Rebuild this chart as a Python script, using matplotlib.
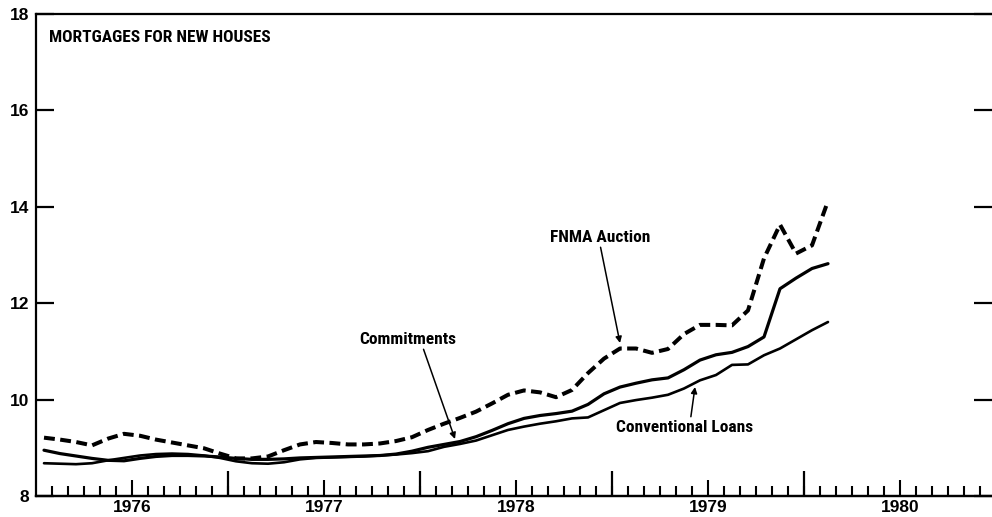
import numpy as np
import matplotlib
matplotlib.use("Agg")
import matplotlib.pyplot as plt
from matplotlib.ticker import FixedLocator, NullFormatter, FixedFormatter

# ---- data (monthly, Jan 1976 - Feb 1980), percent ----
start_year = 1976
fnma_auction = [9.21, 9.17, 9.12, 9.05, 9.19, 9.29, 9.25, 9.17, 9.11, 9.05,
                8.99, 8.88, 8.78, 8.78, 8.82, 8.95, 9.07, 9.12, 9.10, 9.07,
                9.07, 9.09, 9.14, 9.22, 9.37, 9.50, 9.62, 9.75, 9.92, 10.10,
                10.19, 10.15, 10.05, 10.20, 10.55, 10.85, 11.06, 11.06, 10.97, 11.05,
                11.36, 11.55, 11.55, 11.54, 11.85, 12.93, 13.63, 13.03, 13.20, 14.12]
commitments = [8.95, 8.88, 8.83, 8.78, 8.74, 8.73, 8.78, 8.82, 8.84, 8.84,
               8.83, 8.81, 8.78, 8.76, 8.76, 8.77, 8.79, 8.80, 8.81, 8.82,
               8.83, 8.84, 8.87, 8.93, 9.01, 9.07, 9.13, 9.23, 9.36, 9.50,
               9.61, 9.67, 9.71, 9.76, 9.90, 10.12, 10.26, 10.34, 10.41, 10.45,
               10.62, 10.82, 10.93, 10.98, 11.10, 11.30, 12.30, 12.52, 12.72, 12.82]
conventional_loans = [8.68, 8.67, 8.66, 8.68, 8.74, 8.79, 8.84, 8.87, 8.88, 8.87,
                      8.84, 8.79, 8.72, 8.68, 8.67, 8.70, 8.76, 8.79, 8.80, 8.81,
                      8.82, 8.84, 8.86, 8.89, 8.93, 9.02, 9.08, 9.15, 9.26, 9.37,
                      9.44, 9.50, 9.55, 9.61, 9.63, 9.78, 9.93, 9.99, 10.04, 10.10,
                      10.23, 10.40, 10.51, 10.72, 10.73, 10.92, 11.06, 11.25, 11.44, 11.61]
year_labels = ["1976", "1977", "1978", "1979", "1980"]
y_ticks = [8, 10, 12, 14, 16, 18]

months = start_year + (np.arange(len(fnma_auction)) + 0.5) / 12.0

# ---- figure ----
W, H = 992, 517
fig = plt.figure(figsize=(W / 100, H / 100), dpi=100)
L, R, T, B = 36, 992, 14, 496
ax = fig.add_axes([L / W, (H - B) / H, (R - L) / W, (B - T) / H])

sans = ["Liberation Sans", "DejaVu Sans"]
narrow = ["Roboto Condensed", "DejaVu Sans"]
nsize = 12.5

ax.plot(months, fnma_auction, color="black", lw=2.9,
        linestyle=(0, (2.7, 1.35)), dash_capstyle="butt")
ax.plot(months, commitments, color="black", lw=2.3, solid_capstyle="round")
ax.plot(months, conventional_loans, color="black", lw=1.9, solid_capstyle="round")

ax.set_xlim(1976, 1976 + (R - L) / 192.0)
ax.set_ylim(8, 18)

for s in ["left", "bottom", "top"]:
    ax.spines[s].set_linewidth(1.6)
ax.spines["right"].set_visible(False)

ax.set_yticks(y_ticks)
ax.set_yticklabels([str(v) for v in y_ticks], fontfamily=sans, fontweight="bold", fontsize=12.5)
ax.tick_params(axis="y", which="major", direction="in", length=13, width=1.6,
               left=True, right=True, pad=5)

mid_years = [start_year + k + 0.5 for k in range(len(year_labels))]
ax.xaxis.set_major_locator(FixedLocator(mid_years))
ax.xaxis.set_major_formatter(FixedFormatter(year_labels))
month_bounds = [start_year + m / 12.0 for m in range(1, 12 * 5)]
ax.xaxis.set_minor_locator(FixedLocator(month_bounds))
ax.xaxis.set_minor_formatter(NullFormatter())
ax.tick_params(axis="x", which="major", direction="in", length=11.5, width=1.5, pad=3)
ax.tick_params(axis="x", which="minor", direction="in", length=7, width=1.5)
for lab in ax.get_xticklabels():
    lab.set_fontfamily(sans)
    lab.set_fontweight("bold")
    lab.set_fontsize(12.5)

sec = ax.secondary_xaxis("bottom")
sec.set_xticks([start_year + k for k in range(1, 5)])
sec.tick_params(axis="x", direction="in", length=18, width=1.6, labelbottom=False)
sec.spines["bottom"].set_linewidth(1.6)

fig.text(49 / W, 1 - 37 / H, "MORTGAGES FOR NEW HOUSES", fontfamily=narrow,
         fontweight="bold", fontsize=nsize, va="center", ha="left")

def px2data(px, py):
    return 1976 + (px - L) / 192.0, 8 + (B - py) / ((B - T) / 10.0)

arrow = dict(arrowstyle="-|>", color="black", lw=1.1, mutation_scale=9,
             shrinkA=0, shrinkB=0)

ax.annotate("Commitments", xy=px2data(455, 439), xytext=px2data(408, 339),
            ha="center", va="center", fontfamily=narrow, fontweight="bold", fontsize=nsize,
            arrowprops=dict(arrow, relpos=(0.65, 0.0)))
ax.annotate("FNMA Auction", xy=px2data(620, 343), xytext=px2data(600, 237),
            ha="center", va="center", fontfamily=narrow, fontweight="bold", fontsize=nsize,
            arrowprops=dict(arrow, relpos=(0.5, 0.0)))
ax.annotate("Conventional Loans", xy=px2data(695, 387), xytext=px2data(685, 427),
            ha="center", va="center", fontfamily=narrow, fontweight="bold", fontsize=nsize,
            arrowprops=dict(arrow, relpos=(0.54, 1.0)))

fig.savefig("out.png", dpi=100)
